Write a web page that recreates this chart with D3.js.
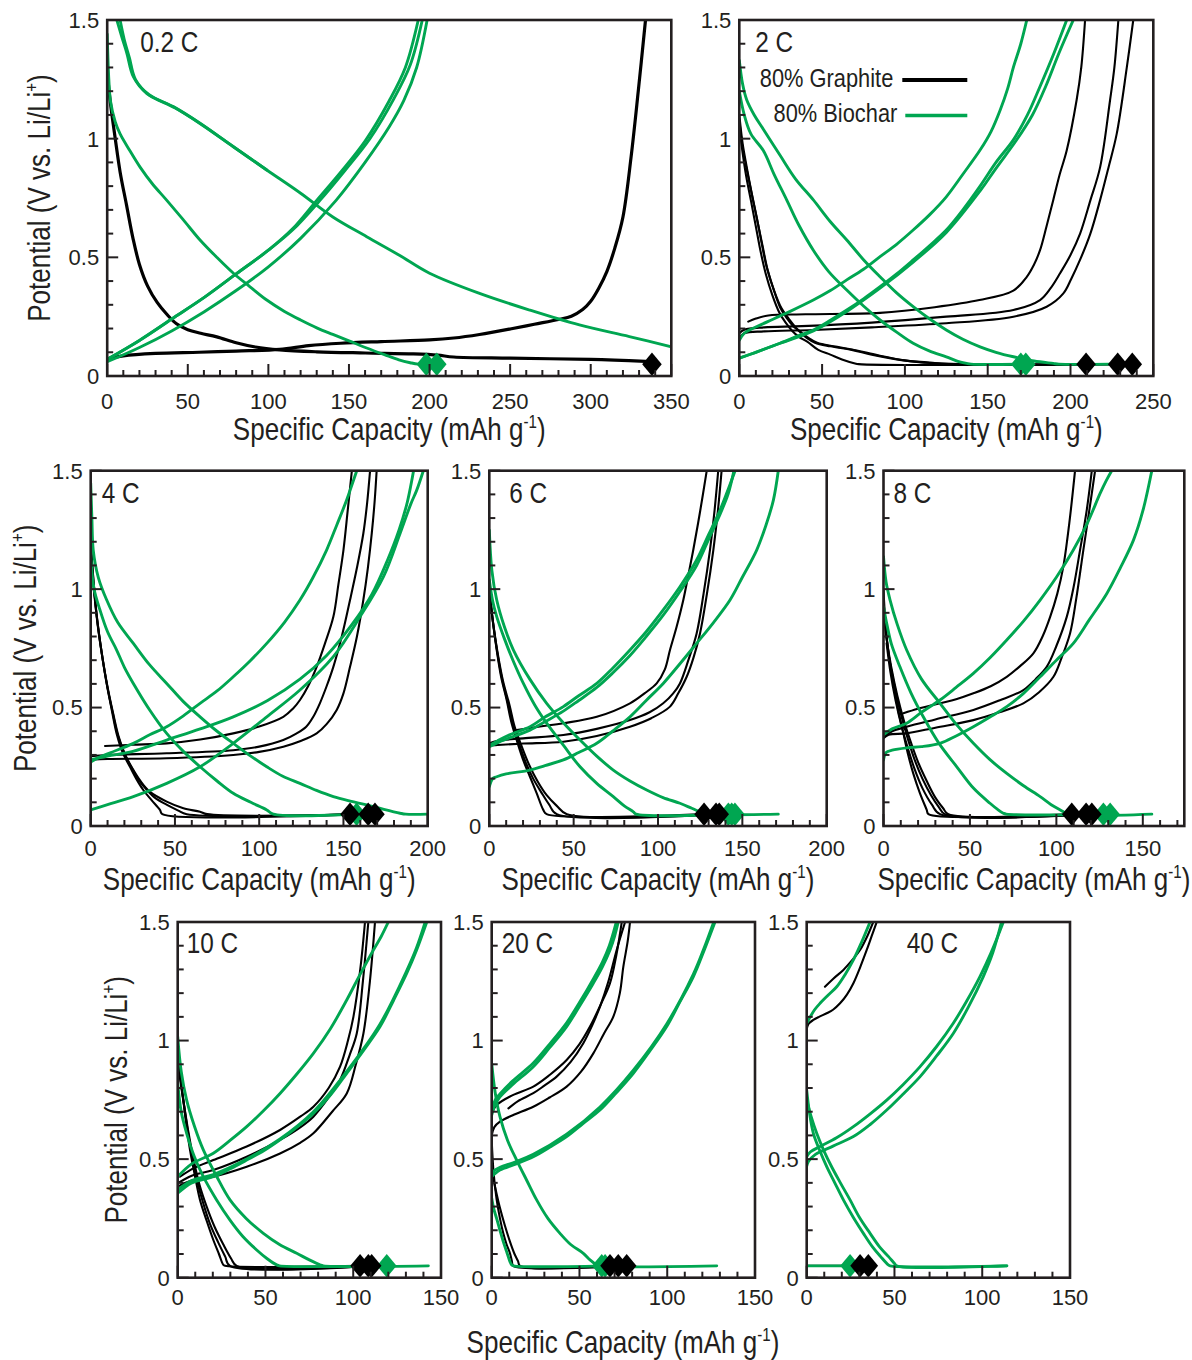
<!DOCTYPE html>
<html><head><meta charset="utf-8">
<script src="https://cdn.jsdelivr.net/npm/d3@7"></script>
<style>
html,body{margin:0;padding:0;background:#fff;}
svg{display:block;}
</style></head>
<body>
<svg id="chart" width="1192" height="1360"></svg>
<script>
// ---------------- DATA ----------------
const rates = ["0.2 C","2 C","4 C","6 C","8 C","10 C","20 C","40 C"];
const xMaxima = [350,250,200,200,174,150,150,150];
const yTickValues = [0,0.5,1,1.5];
const yTickLabels = ["0","0.5","1","1.5"];
const legendLabels = ["80% Graphite","80% Biochar"];

// 0.2 C
const graphite02C = [
 [[0,1.28],[2,1.15],[5,1.0],[8,0.86],[12,0.72],[16,0.58],[20,0.47],[25,0.38],[31,0.31],[37,0.26],[43,0.22],[50,0.195],[58,0.18],[68,0.165],[80,0.14],[92,0.122],[107,0.11],[130,0.102],[160,0.097],[190,0.093],[205,0.088],[215,0.08],[250,0.075],[300,0.07],[334,0.062]],
 [[0,0.072],[10,0.085],[30,0.095],[57,0.1],[80,0.105],[107,0.112],[125,0.128],[145,0.138],[170,0.145],[200,0.152],[215,0.16],[231,0.175],[250,0.198],[265,0.218],[280,0.238],[288,0.252],[295,0.28],[300,0.315],[305,0.37],[310,0.44],[315,0.54],[320,0.67],[325,0.92],[329.5,1.2],[334,1.5]]
];
const biochar02C = [
 [[6,1.5],[9,1.43],[12.2,1.36],[16.3,1.26],[24.6,1.19],[41,1.135],[57.6,1.065],[78.3,0.966],[99,0.868],[120,0.77],[140,0.67],[161,0.587],[181,0.51],[200,0.433],[231,0.348],[262,0.278],[293,0.215],[324,0.166],[352,0.12]],
 [[8,1.5],[10.5,1.42],[13.8,1.34],[17.5,1.25],[26,1.185],[42,1.13],[58,1.062],[78.3,0.966],[99,0.868]],
 [[0,1.44],[1,1.25],[2,1.16],[5,1.07],[8,1.02],[14,0.95],[20.4,0.88],[28,0.81],[37,0.74],[47,0.66],[57.6,0.573],[68,0.5],[78.3,0.433],[88.6,0.376],[99,0.32],[110,0.272],[120,0.236],[130,0.203],[140,0.175],[150,0.148],[161,0.118],[172,0.09],[181,0.068],[188,0.056],[193,0.05],[204,0.05]],
 [[0,0.07],[20,0.15],[40,0.24],[60,0.33],[80,0.43],[100,0.53],[115,0.62],[130,0.74],[145,0.86],[160,0.99],[175,1.16],[185,1.3],[193,1.5]],
 [[0,0.07],[20,0.15],[40,0.24],[60,0.33],[80,0.43],[100,0.53],[115,0.615],[132,0.74],[148,0.87],[163,1.0],[178,1.17],[188,1.31],[195.5,1.5]],
 [[0,0.06],[20,0.12],[40,0.19],[60,0.27],[80,0.36],[100,0.46],[120,0.58],[142,0.74],[160,0.9],[175,1.05],[184,1.16],[192,1.3],[198.5,1.5]]
];
const graphiteDiamonds02C = [338];
const biocharDiamonds02C = [198,204.5];

// 2 C
const graphite2C = [
 [[0,1.1],[2,0.98],[4.5,0.88],[7.5,0.77],[10.5,0.67],[13.5,0.56],[16.5,0.46],[20.5,0.37],[24.6,0.29],[28.6,0.245],[32.6,0.21],[36,0.19],[40.7,0.16],[45.7,0.14],[55,0.125],[67.9,0.11],[80,0.09],[98,0.067],[115,0.055],[130,0.05],[209.4,0.05]],
 [[0,1.08],[2,0.96],[4.8,0.86],[8,0.75],[11,0.65],[14,0.55],[17,0.45],[21,0.36],[25.5,0.285],[30,0.24],[34,0.205],[38,0.18],[42,0.16],[47,0.14],[57,0.125],[68,0.112],[82,0.09],[100,0.066],[118,0.055],[135,0.05],[228.5,0.05]],
 [[0,1.05],[2,0.94],[4.2,0.84],[7,0.74],[10,0.63],[13,0.52],[16,0.43],[20,0.34],[24,0.27],[28,0.225],[32,0.19],[36,0.165],[41,0.145],[47.7,0.11],[55,0.09],[62,0.07],[69.9,0.053],[72,0.05],[237.3,0.05]],
 [[5.4,0.229],[10,0.242],[17.5,0.255],[40,0.26],[85,0.266],[118,0.29],[145,0.32],[165.5,0.36],[173.6,0.418],[178,0.47],[181.6,0.53],[185.5,0.63],[189.6,0.742],[193.5,0.85],[197.7,0.95],[203.7,1.163],[206.5,1.3],[208.8,1.5]],
 [[0,0.18],[3,0.195],[15,0.205],[37.7,0.21],[80,0.225],[125,0.25],[165.5,0.278],[181.6,0.32],[188,0.37],[193.7,0.433],[200,0.51],[205.8,0.6],[212,0.74],[217.9,0.88],[223.9,1.163],[226.5,1.3],[228.9,1.5]],
 [[0,0.16],[3,0.18],[15,0.188],[44.7,0.194],[80,0.205],[125,0.222],[165.5,0.25],[185.6,0.292],[195.7,0.348],[200.5,0.41],[205.8,0.49],[212,0.6],[217.9,0.742],[223,0.88],[227.9,1.02],[234,1.3],[237.9,1.5]]
];
const biochar2C = [
 [[0,1.33],[2,1.23],[4.5,1.163],[9,1.1],[14.5,1.04],[24.6,0.93],[34,0.83],[44.7,0.742],[55,0.65],[64.9,0.573],[75,0.49],[85,0.418],[95,0.35],[105,0.292],[115,0.24],[125,0.194],[135,0.155],[145.4,0.123],[155,0.1],[165.5,0.081],[178,0.063],[189.6,0.053],[193,0.05],[224,0.05]],
 [[0,1.2],[3,1.1],[7,1.02],[14.5,0.95],[21,0.85],[28.6,0.742],[36,0.635],[44.7,0.53],[54,0.44],[64.9,0.362],[75,0.295],[85,0.236],[95,0.185],[105,0.138],[115,0.105],[125,0.081],[132,0.062],[137.3,0.053],[140,0.05],[172,0.05]],
 [[0,0.15],[3,0.18],[8,0.2],[17.5,0.23],[30,0.27],[44.7,0.32],[55,0.36],[64.9,0.405],[75,0.45],[85,0.503],[95,0.555],[105,0.615],[115,0.68],[125,0.755],[135,0.85],[145.4,0.952],[152,1.03],[157.5,1.12],[162,1.21],[165.5,1.3],[170,1.4],[173.6,1.5]],
 [[0,0.075],[10,0.1],[24.6,0.138],[37.7,0.175],[44.7,0.194],[55,0.235],[64.9,0.278],[75,0.325],[85,0.376],[95,0.43],[105,0.489],[115,0.55],[125,0.615],[135,0.7],[145.4,0.8],[155,0.9],[165.5,0.995],[174,1.1],[181.6,1.22],[190,1.36],[197.7,1.5]],
 [[0,0.075],[10,0.1],[24.6,0.138],[44.7,0.19],[64.9,0.272],[85,0.37],[105,0.48],[125,0.605],[145.4,0.78],[155,0.875],[167,0.99],[177,1.1],[185,1.22],[193,1.36],[201.7,1.5]]
];
const graphiteDiamonds2C = [209.4,228.5,237.3];
const biocharDiamonds2C = [170,173];

// 4 C
const graphite4C = [
 [[0,1.2],[1.5,1.05],[3.6,0.88],[6.5,0.73],[9.5,0.6],[12.5,0.49],[15.4,0.39],[19,0.31],[23.3,0.25],[27,0.2],[31.2,0.152],[36,0.11],[41.1,0.068],[42.5,0.05],[153.9,0.05]],
 [[0,1.18],[1.7,1.03],[3.9,0.87],[6.8,0.72],[9.8,0.59],[13,0.48],[16,0.385],[19.8,0.31],[24,0.25],[28,0.2],[33,0.155],[38,0.12],[45,0.09],[52,0.065],[57,0.05],[164.7,0.05]],
 [[0,1.15],[1.8,1.0],[4.2,0.85],[7.2,0.7],[10.2,0.58],[13.5,0.47],[16.5,0.38],[20.5,0.3],[25,0.24],[29.5,0.19],[35,0.145],[45.1,0.103],[55,0.075],[64.9,0.06],[69,0.05],[168.7,0.05]],
 [[8.5,0.338],[25,0.343],[45.1,0.349],[65,0.365],[84.6,0.391],[100,0.42],[114.3,0.461],[120,0.495],[124.2,0.532],[129,0.59],[134.1,0.672],[139,0.77],[144,0.883],[147,1.02],[150,1.165],[152.5,1.33],[155,1.5]],
 [[0,0.295],[10,0.3],[45.1,0.307],[84.6,0.32],[100,0.335],[114.3,0.363],[122,0.39],[127.9,0.419],[132,0.46],[136,0.518],[140,0.59],[144,0.672],[149,0.8],[153.9,0.954],[158,1.09],[161.8,1.235],[164,1.36],[165.8,1.5]],
 [[0,0.28],[10,0.283],[45.1,0.286],[84.6,0.3],[100,0.313],[114.3,0.335],[125,0.36],[134.1,0.391],[140,0.43],[146,0.49],[150,0.56],[153.9,0.672],[158,0.8],[161.8,0.954],[164.5,1.09],[166.8,1.235],[168.5,1.37],[169.7,1.5]]
];
const biochar4C = [
 [[0,1.447],[0.7,1.3],[1.5,1.165],[4.5,1.05],[9.5,0.954],[16,0.86],[25.3,0.771],[35,0.68],[45.1,0.602],[55,0.525],[64.9,0.461],[75,0.4],[84.6,0.349],[95,0.295],[104.5,0.25],[114,0.21],[124.2,0.18],[134,0.15],[144,0.124],[154,0.105],[163.8,0.089],[174,0.07],[183.6,0.054],[187,0.05],[200,0.05]],
 [[0,1.137],[2,1.0],[5.5,0.912],[10,0.82],[15.4,0.743],[20,0.67],[25.3,0.602],[35,0.49],[45.1,0.391],[55,0.315],[64.9,0.25],[75,0.19],[84.6,0.138],[95,0.1],[104.5,0.068],[108.4,0.05],[157.8,0.05]],
 [[0,0.27],[5,0.29],[12,0.31],[25.3,0.349],[35,0.385],[45.1,0.419],[55,0.465],[64.9,0.518],[75,0.57],[84.6,0.63],[95,0.7],[104.5,0.771],[115,0.86],[124.2,0.954],[132,1.05],[140,1.165],[146,1.27],[151.9,1.376],[155,1.44],[157.9,1.5]],
 [[0,0.28],[10,0.295],[25,0.315],[45.1,0.363],[65,0.41],[84.6,0.461],[105,0.53],[124.2,0.62],[140,0.72],[155,0.85],[167,0.98],[176,1.12],[183,1.25],[188,1.37],[191.6,1.5]],
 [[0,0.068],[10,0.09],[25.3,0.124],[45.1,0.18],[64.9,0.25],[84.6,0.349],[104.5,0.461],[124.2,0.574],[144,0.715],[159.8,0.883],[173.7,1.052],[183.6,1.235],[190,1.36],[193.5,1.418],[197.4,1.5]]
];
const graphiteDiamonds4C = [153.9,164.7,168.7];
const biocharDiamonds4C = [157.8];

// 6 C
const graphite6C = [
 [[0,1.02],[2,0.87],[4.4,0.743],[7,0.63],[10.3,0.532],[13,0.44],[16.2,0.363],[20,0.28],[24.1,0.208],[28,0.14],[32,0.068],[34,0.05],[127.3,0.05]],
 [[0,1.0],[2.2,0.86],[4.8,0.73],[7.6,0.62],[11,0.52],[14,0.43],[17.5,0.35],[21.5,0.27],[26,0.2],[31,0.14],[35.5,0.09],[40,0.05],[134.4,0.05]],
 [[0,0.98],[2.4,0.85],[5.2,0.72],[8.2,0.61],[12,0.51],[15,0.42],[19,0.34],[23.5,0.26],[28.5,0.19],[34,0.13],[40,0.085],[46,0.05],[136.3,0.05]],
 [[16.2,0.405],[30,0.42],[43.9,0.434],[63.7,0.461],[83.4,0.518],[92,0.56],[99.2,0.602],[104,0.66],[107.1,0.743],[111,0.84],[115,0.954],[118,1.06],[120.9,1.165],[125,1.33],[128.9,1.5]],
 [[0,0.349],[5,0.36],[20,0.37],[43.9,0.384],[63.7,0.41],[83.4,0.447],[95,0.48],[103.1,0.518],[109,0.56],[113,0.602],[118,0.7],[122.9,0.813],[127,0.98],[130.8,1.165],[133.5,1.33],[135.7,1.5]],
 [[0,0.34],[5,0.342],[20,0.348],[43.9,0.356],[63.7,0.38],[83.4,0.419],[96,0.455],[107.1,0.504],[112,0.56],[117,0.63],[121,0.71],[124.9,0.813],[129,0.98],[132.8,1.165],[135.5,1.33],[137.7,1.5]]
];
const biochar6C = [
 [[0,1.249],[1.5,1.08],[4.4,0.954],[9,0.84],[14.3,0.743],[24,0.62],[34,0.518],[44,0.435],[53.8,0.363],[63.7,0.295],[73.5,0.236],[83.4,0.19],[93.3,0.152],[103,0.12],[113,0.096],[120,0.075],[126.8,0.054],[129,0.05],[171.3,0.05]],
 [[0,1.04],[2,0.95],[4.4,0.884],[9,0.79],[14,0.7],[20.2,0.602],[27,0.51],[34,0.434],[44,0.34],[53.8,0.25],[63.7,0.18],[73.5,0.124],[80,0.085],[85.4,0.06],[87,0.05],[145.6,0.05]],
 [[0,0.34],[5,0.36],[12,0.385],[24.1,0.419],[33,0.46],[43.9,0.504],[53,0.55],[63.7,0.602],[73,0.665],[83.4,0.743],[93,0.82],[103.1,0.912],[113,1.01],[122.9,1.123],[130,1.23],[136.8,1.334],[141,1.41],[145.7,1.5]],
 [[0,0.335],[5,0.352],[12,0.372],[24.1,0.405],[33,0.44],[43.9,0.485],[53,0.53],[63.7,0.585],[73,0.645],[83.4,0.72],[93,0.8],[103.1,0.89],[113,0.99],[122.9,1.1],[130,1.21],[137,1.32],[141.5,1.4],[145,1.5]],
 [[0,0.166],[2,0.2],[4.4,0.208],[10,0.22],[24.1,0.236],[33,0.255],[43.9,0.279],[53,0.31],[63.7,0.349],[73,0.4],[83.4,0.461],[93,0.53],[103.1,0.602],[113,0.685],[122.9,0.771],[133,0.86],[142.7,0.954],[150,1.05],[158.5,1.165],[164,1.27],[168.4,1.376],[171.3,1.5]]
];
const graphiteDiamonds6C = [127.3,134.4,136.3];
const biocharDiamonds6C = [141.7,143.7,145.6];

// 8 C
const graphite8C = [
 [[0,0.996],[1,0.87],[2.5,0.75],[5.7,0.602],[8.5,0.49],[11.5,0.391],[14.3,0.3],[17.2,0.222],[21,0.14],[25,0.068],[26,0.05],[108.9,0.05]],
 [[1.8,0.771],[4,0.65],[7,0.53],[10.5,0.42],[14,0.33],[18,0.24],[22.5,0.16],[28,0.09],[32.7,0.05],[117.2,0.05]],
 [[0,0.95],[1.5,0.82],[3.5,0.7],[7,0.57],[10.5,0.46],[14,0.37],[18,0.28],[22.5,0.2],[27.5,0.13],[32,0.08],[35.6,0.05],[120.5,0.05]],
 [[0,0.9],[2,0.78],[4.5,0.67],[8,0.55],[12,0.44],[16,0.35],[20,0.27],[25,0.19],[30,0.12],[34.5,0.075],[37.5,0.05],[120.5,0.05]],
 [[11.5,0.476],[20,0.495],[32.7,0.518],[42,0.535],[52,0.56],[62,0.59],[71.3,0.63],[79,0.675],[86.7,0.729],[92,0.8],[96.4,0.883],[100.5,0.98],[104,1.094],[107.5,1.28],[110.8,1.5]],
 [[0,0.377],[5,0.4],[13.4,0.419],[30,0.45],[52,0.49],[67,0.53],[80.9,0.574],[88,0.62],[94.4,0.672],[100,0.76],[106,0.883],[110,1.01],[113.7,1.165],[117.5,1.33],[120.5,1.5]],
 [[0,0.37],[3,0.385],[13.4,0.391],[30,0.415],[52,0.447],[67,0.48],[80.9,0.518],[90,0.565],[98.3,0.63],[103,0.71],[107.9,0.813],[111.5,0.96],[115.6,1.165],[119,1.33],[122.4,1.5]]
];
const biochar8C = [
 [[0,1.137],[1.5,1.03],[3.8,0.954],[8,0.85],[13.4,0.743],[22,0.62],[32.7,0.518],[42,0.43],[52,0.349],[61.6,0.28],[71.3,0.222],[81,0.17],[90.6,0.124],[97,0.09],[104,0.06],[106,0.05],[155.2,0.05]],
 [[0,0.926],[2,0.85],[4.5,0.77],[9.5,0.672],[16,0.56],[23,0.461],[32,0.35],[42.4,0.25],[52,0.16],[61.6,0.096],[66,0.07],[69.3,0.054],[71,0.05],[131.1,0.05]],
 [[0,0.385],[5,0.41],[13.4,0.434],[22,0.48],[32.7,0.532],[42,0.585],[52,0.644],[61.6,0.71],[71.3,0.785],[81,0.865],[90.6,0.954],[100,1.05],[109.8,1.165],[118,1.28],[125.3,1.404],[129,1.46],[132,1.5]],
 [[0,0.279],[1.5,0.31],[5,0.32],[13.4,0.33],[22,0.335],[32.7,0.349],[42,0.38],[52,0.419],[61.6,0.46],[71.3,0.504],[81,0.56],[90.6,0.63],[100,0.7],[109.8,0.771],[119,0.87],[129.2,0.982],[137,1.09],[144.6,1.207],[150,1.33],[155.2,1.5]]
];
const graphiteDiamonds8C = [108.9,117.2,120.5];
const biocharDiamonds8C = [127.2,131.1];

// 10 C
const graphite10C = [
 [[0,0.96],[1.5,0.85],[3.2,0.749],[5,0.64],[7,0.539],[9.8,0.43],[12.7,0.328],[16.5,0.24],[20.3,0.159],[23.5,0.1],[26,0.054],[27,0.05],[103.9,0.05]],
 [[0,0.94],[1.7,0.83],[3.6,0.73],[5.6,0.625],[8,0.52],[11,0.41],[14.5,0.315],[18.5,0.225],[23,0.15],[27,0.09],[29.8,0.05],[108.6,0.05]],
 [[0,0.92],[1.9,0.81],[4,0.71],[6.2,0.61],[9,0.5],[12.5,0.39],[16.5,0.3],[21,0.215],[26,0.14],[30.5,0.08],[33.6,0.05],[110.5,0.05]],
 [[1.3,0.426],[10,0.465],[20.3,0.496],[39.3,0.553],[58.3,0.623],[70,0.68],[77.3,0.721],[86,0.8],[92.5,0.89],[97,1.0],[100.1,1.1],[104,1.3],[106.7,1.5]],
 [[0,0.398],[8,0.43],[20.3,0.454],[39.3,0.51],[58.3,0.581],[70,0.635],[77.3,0.679],[86,0.76],[92.5,0.834],[98,0.94],[102,1.03],[105.5,1.25],[108.6,1.5]],
 [[0,0.384],[8,0.41],[20.3,0.426],[39.3,0.468],[58.3,0.524],[70,0.57],[77.3,0.609],[88,0.7],[96.3,0.777],[101.5,0.9],[105.8,1.03],[109.5,1.25],[112.4,1.5]]
];
const biochar10C = [
 [[0,1.017],[2,0.87],[5.1,0.749],[9.5,0.64],[14.6,0.539],[22,0.43],[29.8,0.328],[39,0.25],[48.8,0.187],[58,0.14],[67.8,0.103],[75,0.075],[81.1,0.054],[83,0.05],[142.8,0.05]],
 [[0,0.82],[2,0.7],[5.1,0.609],[9.5,0.51],[14.6,0.426],[22,0.33],[29.8,0.243],[37,0.175],[45,0.117],[51,0.08],[56.4,0.054],[58,0.05],[119.1,0.05]],
 [[0,0.426],[8,0.48],[20.3,0.525],[30,0.58],[39.3,0.637],[49,0.705],[58.3,0.777],[68,0.86],[77.3,0.946],[87,1.05],[96.3,1.171],[104,1.28],[111.5,1.382],[116,1.44],[120,1.5]],
 [[0,0.356],[8,0.4],[20.3,0.426],[30,0.46],[39.3,0.496],[49,0.535],[58.3,0.581],[68,0.635],[77.3,0.693],[87,0.77],[96.3,0.862],[106,0.96],[115.3,1.059],[123,1.17],[130.5,1.284],[136,1.38],[141.9,1.5]],
 [[0,0.37],[8,0.41],[20.3,0.435],[39.3,0.5],[58.3,0.585],[77.3,0.7],[96.3,0.87],[115.3,1.07],[130.5,1.295],[136,1.39],[141,1.5]]
];
const graphiteDiamonds10C = [103.9,108.6,110.5];
const biocharDiamonds10C = [119.1];

// 20 C
const graphite20C = [
 [[0,0.58],[1,0.45],[2.8,0.33],[4.7,0.25],[6.6,0.187],[8.5,0.14],[10.4,0.103],[11.5,0.07],[12.3,0.05],[67.4,0.05]],
 [[0,0.45],[2,0.38],[4.5,0.3],[7.5,0.22],[10.5,0.15],[13,0.1],[15,0.07],[16.1,0.05],[76.9,0.05]],
 [[9.5,0.714],[15,0.745],[23.7,0.778],[30,0.81],[37,0.848],[45,0.91],[52.2,0.989],[57,1.06],[61.7,1.143],[66.5,1.25],[71.2,1.382],[76,1.5]],
 [[0,0.693],[2.8,0.728],[12,0.77],[23.7,0.806],[33,0.855],[42.7,0.918],[50,0.985],[56,1.059],[62,1.15],[67.4,1.242],[71,1.36],[74.1,1.5]],
 [[0,0.6],[1.5,0.635],[4.7,0.658],[12,0.685],[23.7,0.721],[33,0.76],[42.7,0.806],[51,0.87],[57.9,0.946],[64,1.03],[69.3,1.101],[73,1.2],[75,1.312],[77.5,1.42],[78.8,1.5]]
];
const biochar20C = [
 [[0,0.904],[2,0.78],[4.7,0.679],[9,0.58],[14.2,0.496],[20,0.41],[25.6,0.328],[32,0.25],[38.9,0.187],[45,0.14],[52.2,0.103],[56,0.075],[59.8,0.054],[61,0.05],[128.2,0.05]],
 [[0,0.335],[1.2,0.29],[2.8,0.25],[4.7,0.2],[6.6,0.152],[8.5,0.11],[10.4,0.068],[11.4,0.054],[12.5,0.05],[64.6,0.05]],
 [[0,0.686],[2,0.73],[4.7,0.763],[12,0.815],[23.7,0.89],[33,0.97],[42.7,1.059],[50,1.145],[57.9,1.242],[63,1.31],[67.4,1.382],[70,1.44],[72.1,1.5]],
 [[0,0.7],[2,0.75],[4.7,0.775],[12,0.83],[23.7,0.905],[33,0.985],[42.7,1.075],[50,1.16],[57.9,1.26],[63,1.33],[67,1.4],[71,1.5]],
 [[0,0.426],[2,0.44],[4.7,0.454],[14,0.48],[23.7,0.51],[33,0.55],[42.7,0.595],[52,0.65],[61.7,0.707],[71,0.78],[80.7,0.862],[90,0.955],[99.7,1.059],[107,1.16],[114.9,1.27],[121,1.38],[127.2,1.5]],
 [[0,0.44],[2,0.455],[4.7,0.465],[14,0.49],[23.7,0.52],[42.7,0.605],[61.7,0.72],[80.7,0.875],[99.7,1.07],[114.9,1.28],[121,1.39],[126.5,1.5]]
];
const graphiteDiamonds20C = [67.4,72.1,76.9];
const biocharDiamonds20C = [62.7,64.6];

// 40 C
const graphite40C = [
 [[0,0.05],[35.1,0.05]],
 [[0,1.045],[1,1.07],[3.8,1.087],[7,1.1],[11.4,1.115],[15,1.13],[19,1.157],[23,1.195],[26.6,1.242],[30.5,1.31],[34.2,1.382],[37,1.44],[39.9,1.5]],
 [[10.4,1.227],[15,1.26],[20.9,1.298],[26,1.34],[30.4,1.382],[34.5,1.44],[37.9,1.5]]
];
const biochar40C = [
 [[0,0.05],[24.7,0.05]],
 [[0,1.073],[2,1.1],[4.5,1.13],[7.6,1.157],[12,1.19],[17.1,1.227],[22,1.28],[26.6,1.34],[31,1.41],[36.1,1.5]],
 [[0,0.79],[1.5,0.7],[3.8,0.609],[7.5,0.535],[11.4,0.468],[16,0.4],[20.9,0.328],[26.5,0.255],[32.3,0.187],[37.5,0.13],[42,0.09],[46.5,0.054],[47.5,0.05],[114,0.05]],
 [[0,0.749],[2.5,0.68],[5.7,0.609],[9.8,0.535],[14.2,0.468],[19.2,0.4],[24.7,0.328],[30,0.255],[36.1,0.187],[41.5,0.13],[46.5,0.09],[50,0.06],[51.3,0.05],[114,0.05]],
 [[0,0.51],[2,0.53],[7.6,0.553],[17,0.59],[26.6,0.637],[36,0.69],[45.6,0.749],[55,0.815],[64.6,0.89],[74,0.975],[83.5,1.073],[91,1.165],[98.7,1.27],[105,1.37],[112,1.5]],
 [[0,0.47],[1,0.49],[5,0.52],[15,0.555],[26.6,0.595],[36,0.645],[45.6,0.707],[55,0.775],[64.6,0.848],[74,0.935],[83.5,1.03],[92,1.14],[100.6,1.27],[106,1.37],[111,1.5]]
];
const graphiteDiamonds40C = [30.4,35.1];
const biocharDiamonds40C = [24.7];

const graphiteCurves = [graphite02C,graphite2C,graphite4C,graphite6C,graphite8C,graphite10C,graphite20C,graphite40C];
const biocharCurves = [biochar02C,biochar2C,biochar4C,biochar6C,biochar8C,biochar10C,biochar20C,biochar40C];
const graphiteDiamonds = [graphiteDiamonds02C,graphiteDiamonds2C,graphiteDiamonds4C,graphiteDiamonds6C,graphiteDiamonds8C,graphiteDiamonds10C,graphiteDiamonds20C,graphiteDiamonds40C];
const biocharDiamonds = [biocharDiamonds02C,biocharDiamonds2C,biocharDiamonds4C,biocharDiamonds6C,biocharDiamonds8C,biocharDiamonds10C,biocharDiamonds20C,biocharDiamonds40C];
const cutoffPotential = 0.05;

// ---------------- LAYOUT / STYLE ----------------
const BLACK = "#000000", GREEN = "#00a651", INK = "#231f20";
const SANS = "'Liberation Sans',Arial,sans-serif";
const SQUEEZE = 0.84;
const layout = [
 {x0:107.2,x1:671.3,y0:20,y1:376, lab:[33,32], tdy:33, yTitleX:50, xTitle:true, gw:3.2},
 {x0:739.3,x1:1153.3,y0:20,y1:376, lab:[16,32], tdy:33, xTitle:true, legend:true},
 {x0:90.7,x1:427.7,y0:470.7,y1:826, lab:[11,32], tdy:30, yTitleX:36, xTitle:true},
 {x0:489.3,x1:826.7,y0:470.7,y1:826, lab:[20,32], tdy:30, xTitle:true},
 {x0:883.5,x1:1184.3,y0:470.7,y1:826, lab:[10,32], tdy:30, xTitle:true},
 {x0:177.7,x1:441,y0:922,y1:1277.7, lab:[9,31], tdy:27, yTitleX:127},
 {x0:491.7,x1:755,y0:922,y1:1277.7, lab:[10,31], tdy:27},
 {x0:806.7,x1:1070,y0:922,y1:1277.7, lab:[100,31], tdy:27}
];

const svg = d3.select("#chart");
const defs = svg.append("defs");

const diamond = {
  draw(ctx, size){
    const w = Math.sqrt(size/2.4), h = 1.2*w;
    ctx.moveTo(0,-h); ctx.lineTo(w,0); ctx.lineTo(0,h); ctx.lineTo(-w,0); ctx.closePath();
  }
};

// condensed text: horizontal squeeze via transform
function narrowText(parent, x, y, size, anchor, rotate){
  return parent.append("text")
    .attr("transform",`translate(${x},${y})${rotate?" rotate(-90)":""} scale(${SQUEEZE},1)`)
    .attr("text-anchor",anchor).attr("font-family",SANS).attr("font-size",size).attr("fill",INK);
}
function addXTitle(g, cx, baseline){
  const t = narrowText(g,cx,baseline,31,"middle",false);
  t.append("tspan").text("Specific Capacity (mAh g");
  t.append("tspan").attr("dy",-12).attr("font-size",18).text("-1");
  t.append("tspan").attr("dy",12).text(")");
}
function addYTitle(g, bx, cy){
  const t = narrowText(g,bx,cy,31,"middle",true);
  t.append("tspan").text("Potential (V vs. Li/Li");
  t.append("tspan").attr("dy",-12).attr("font-size",18).text("+");
  t.append("tspan").attr("dy",12).text(")");
}

layout.forEach((L,i)=>{
  const xMax = xMaxima[i];
  const x = d3.scaleLinear().domain([0,xMax]).range([L.x0,L.x1]);
  const y = d3.scaleLinear().domain([0,1.5]).range([L.y1,L.y0]);
  const g = svg.append("g");
  const cid = "clip"+i;
  defs.append("clipPath").attr("id",cid).append("rect")
    .attr("x",L.x0).attr("y",L.y0).attr("width",L.x1-L.x0).attr("height",L.y1-L.y0);

  const line = d3.line().x(d=>x(d[0])).y(d=>y(d[1])).curve(d3.curveCatmullRom.alpha(0.5));
  const plot = g.append("g").attr("clip-path",`url(#${cid})`);
  plot.selectAll("path.gr").data(graphiteCurves[i]).join("path").attr("class","gr")
    .attr("d",line).attr("fill","none").attr("stroke",BLACK).attr("stroke-width",L.gw||2.1)
    .attr("stroke-linejoin","round").attr("stroke-linecap","round");
  plot.selectAll("path.bc").data(biocharCurves[i]).join("path").attr("class","bc")
    .attr("d",line).attr("fill","none").attr("stroke",GREEN).attr("stroke-width",2.9)
    .attr("stroke-linejoin","round").attr("stroke-linecap","round");
  const sym = d3.symbol().type(diamond).size(230);
  g.selectAll("path.bd").data(biocharDiamonds[i]).join("path").attr("class","bd")
    .attr("transform",d=>`translate(${x(d)},${y(cutoffPotential)})`).attr("d",sym).attr("fill",GREEN);
  g.selectAll("path.gd").data(graphiteDiamonds[i]).join("path").attr("class","gd")
    .attr("transform",d=>`translate(${x(d)},${y(cutoffPotential)})`).attr("d",sym).attr("fill",BLACK);

  // ticks (inward)
  const yMinor = d3.range(0,15.01,1).map(v=>v/10);
  g.selectAll("line.yt").data(yMinor).join("line").attr("class","yt")
    .attr("x1",x(0)).attr("x2",d=>x(0)+(Math.abs(d*2-Math.round(d*2))<1e-6?11:6))
    .attr("y1",d=>y(d)).attr("y2",d=>y(d)).attr("stroke",INK).attr("stroke-width",2);
  const xMinor = d3.range(0,xMax+0.01,10);
  g.selectAll("line.xt").data(xMinor).join("line").attr("class","xt")
    .attr("x1",d=>x(d)).attr("x2",d=>x(d)).attr("y1",y(0))
    .attr("y2",d=>y(0)-(d%50===0?12:6)).attr("stroke",INK).attr("stroke-width",2);

  // frame
  g.append("rect").attr("x",L.x0).attr("y",L.y0).attr("width",L.x1-L.x0).attr("height",L.y1-L.y0)
    .attr("fill","none").attr("stroke",INK).attr("stroke-width",2.6);

  // tick labels
  g.selectAll("text.yl").data(yTickValues).join("text").attr("class","yl")
    .attr("x",x(0)-8).attr("y",d=>y(d)).attr("dy","0.36em").attr("text-anchor","end")
    .attr("font-family",SANS).attr("font-size",22).attr("fill",INK)
    .text((d,k)=>yTickLabels[k]);
  const xMajor = d3.range(0,xMax+0.01,50);
  g.selectAll("text.xl").data(xMajor).join("text").attr("class","xl")
    .attr("x",d=>x(d)).attr("y",y(0)+L.tdy).attr("text-anchor","middle")
    .attr("font-family",SANS).attr("font-size",22).attr("fill",INK).text(d=>d3.format("d")(d));

  // panel label
  narrowText(g,L.x0+L.lab[0],L.y0+L.lab[1],29,"start",false).text(rates[i]);

  if(L.xTitle) addXTitle(g,(L.x0+L.x1)/2,L.y1+64);
  if(L.yTitleX!==undefined) addYTitle(g,L.yTitleX,(L.y0+L.y1)/2);

  if(L.legend){
    const lg = g.append("g");
    const items = [{c:BLACK,tx:L.x0+154,ty:87,ly:80,lx0:L.x0+163,w:4.2},{c:GREEN,tx:L.x0+158,ty:122,ly:115.5,lx0:L.x0+166,w:3.6}];
    items.forEach((it,k)=>{
      narrowText(lg,it.tx,it.ty,26,"end",false).text(legendLabels[k]);
      lg.append("line").attr("x1",it.lx0).attr("x2",L.x0+228).attr("y1",it.ly).attr("y2",it.ly)
        .attr("stroke",it.c).attr("stroke-width",it.w);
    });
  }
});
addXTitle(svg, 623, 1353);
</script>
</body></html>
